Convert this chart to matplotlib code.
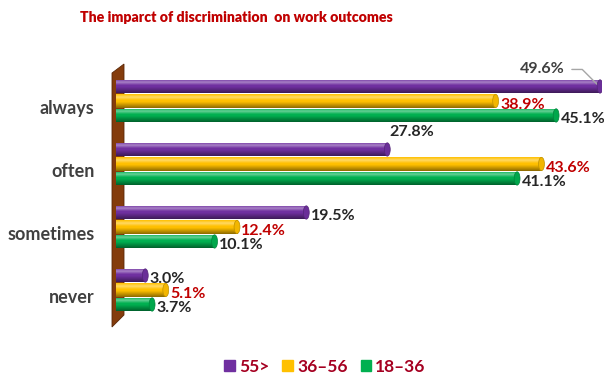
import numpy as np
import matplotlib.pyplot as plt
from matplotlib.patches import Polygon, Rectangle, Ellipse
from matplotlib.colors import to_rgb
from matplotlib.transforms import ScaledTranslation

plt.rcParams['font.family'] = ['Lato', 'DejaVu Sans']

categories = ['always', 'often', 'sometimes', 'never']
series = ['55>', '36\u201356', '18\u201336']
v55 = [49.6, 27.8, 19.5, 3.0]
v36 = [38.9, 43.6, 12.4, 5.1]
v18 = [45.1, 41.1, 10.1, 3.7]
colors = ['#7030A0', '#FFC000', '#00B050']
label_colors = ['#262626', '#C00000', '#262626']

W, H = 604, 379
fig = plt.figure(figsize=(W / 100, H / 100), dpi=100)
ax = fig.add_axes([116 / W, 1 - 330 / H, 486 / W, 270 / H])

# wall on the left
wall = Polygon([(112 / W, 1 - 73 / H), (124 / W, 1 - 64 / H),
                (124 / W, 1 - 315 / H), (112 / W, 1 - 327 / H)],
               closed=True, transform=fig.transFigure, facecolor='#843C0C',
               edgecolor='#5a2808', lw=0.6, zorder=0)
fig.add_artist(wall)

y = np.arange(len(categories))
h = 0.218
offs = [-0.23, 0.0, 0.23]
vals = [v55, v36, v18]

# vertical profile of a cylinder, top -> bottom
t = np.linspace(0, 1, 50)
light = np.clip(0.4 * (1 - np.abs(t - 0.22) / 0.22), 0, None)
dark = np.clip((t - 0.55) / 0.45, 0, 1) * 0.45

for k in range(3):
    bars = ax.barh(y + offs[k], vals[k], height=h, color=colors[k], zorder=2,
                   label=series[k])
    base = np.array(to_rgb(colors[k]))
    img = base[None, :] * (1 - dark[:, None])
    img = img + (1 - img) * light[:, None]
    img = np.clip(img, 0, 1)[:, None, :]
    for b in bars:
        x0, y0 = b.get_x(), b.get_y()
        w, hh = b.get_width(), b.get_height()
        im = ax.imshow(img, extent=[x0, x0 + w, y0 + hh, y0], aspect='auto',
                       origin='upper', zorder=3, interpolation='bilinear')
        im.set_clip_path(b)
        b.set_facecolor('none')
        # end cap of the cylinder
        ax.add_patch(Ellipse((x0 + w, y0 + hh / 2), 0.6, hh * 0.97,
                             facecolor=base * 0.95, edgecolor=base * 0.75,
                             lw=0.5, zorder=4))

ax.set_xlim(0, 49.8)
ax.set_ylim(3.635, -0.65)
ax.set_yticks(y)
ax.set_yticklabels(categories, fontsize=13, fontweight='bold', color='#404040')
for lab in ax.get_yticklabels():
    lab.set_transform(lab.get_transform() + ScaledTranslation(-12 / 100, -6 / 100, fig.dpi_scale_trans))
ax.tick_params(left=False, bottom=False, labelbottom=False)
for s in ax.spines.values():
    s.set_visible(False)
ax.patch.set_alpha(0)

# value labels
fs = 11.5
for k in range(3):
    for i, v in enumerate(vals[k]):
        yy = i + offs[k]
        txt = f'{v:.1f}%'
        if k == 0 and i == 0:
            ax.annotate(txt, xy=(v + 0.05, yy + 0.02), xytext=(v - 3.6, yy - 0.27),
                        fontsize=fs, fontweight='bold', color='#404040',
                        ha='right', va='center',
                        arrowprops=dict(arrowstyle='-', color='#a6a6a6', lw=1,
                                        shrinkA=3, shrinkB=0,
                                        connectionstyle='angle,angleA=0,angleB=135,rad=0'))
        elif k == 0 and i == 1:
            ax.text(v + 0.2, yy - 0.27, txt, fontsize=fs, fontweight='bold',
                    color=label_colors[k], ha='left', va='center')
        else:
            ax.text(v + 0.45, yy + 0.06, txt, fontsize=fs, fontweight='bold',
                    color=label_colors[k], ha='left', va='center', zorder=5)

fig.text(236 / W, 1 - 17 / H, 'The imparct of discrimination  on work outcomes',
         fontsize=10.2, fontweight='heavy', color='#C00000', ha='center', va='center')

handles = [Rectangle((0, 0), 1, 1, color=c) for c in colors]
fig.legend(handles, series, loc='center', bbox_to_anchor=(325 / W, 1 - 367 / H),
           ncol=3, frameon=False, handlelength=0.6, handleheight=0.6,
           handletextpad=0.25, columnspacing=0.75,
           prop={'weight': 'bold', 'size': 12.5})
for t_ in fig.legends[0].get_texts():
    t_.set_color('#A50021')

fig.savefig('out.png', dpi=100)
